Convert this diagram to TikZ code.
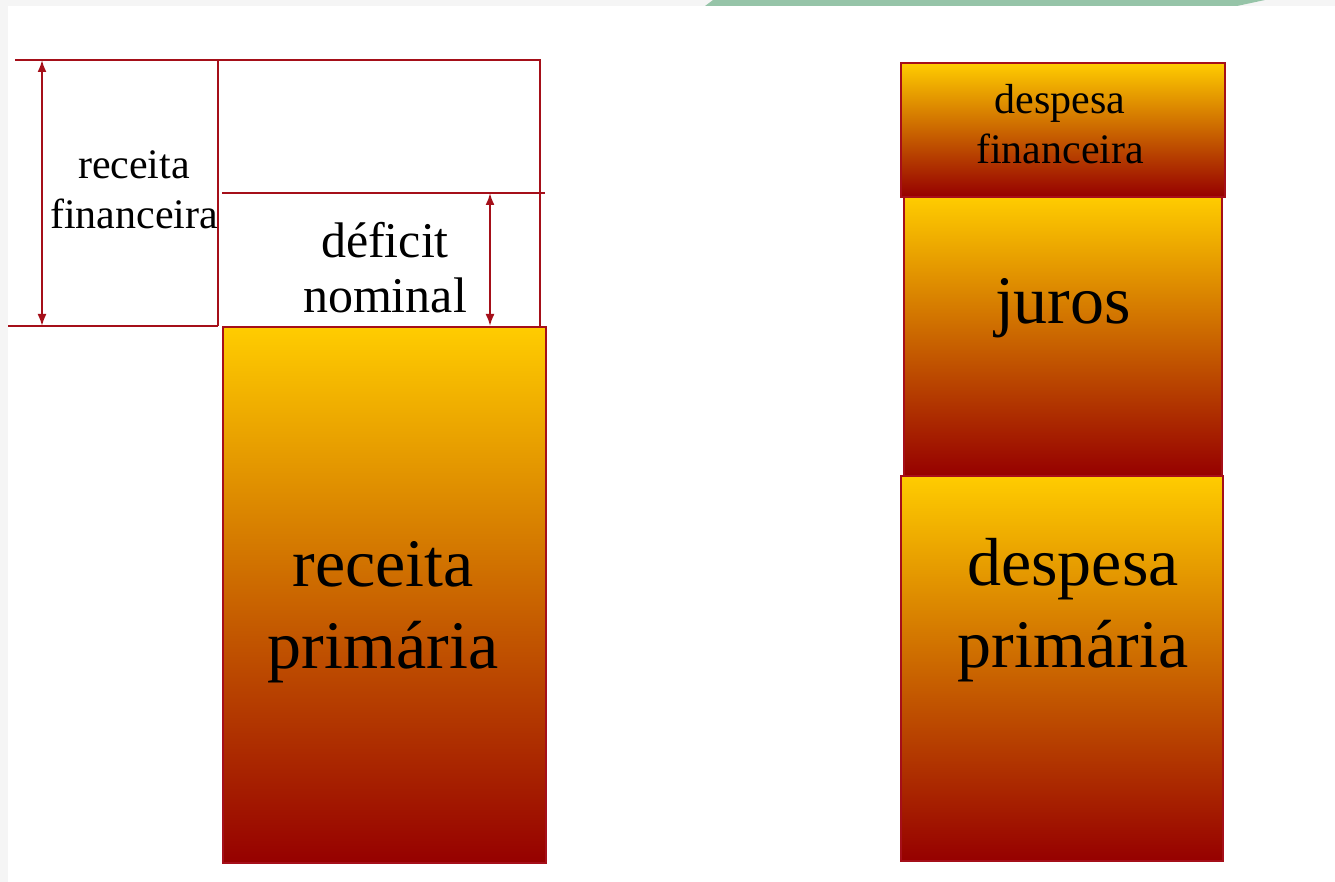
\documentclass[tikz,border=0pt]{standalone}
\usepackage{fontspec}
\setmainfont{Liberation Serif}
\usetikzlibrary{shapes.geometric, arrows, arrows.meta}
\definecolor{barred}{RGB}{150,0,0}
\definecolor{baryellow}{RGB}{255,204,0}
\definecolor{linered}{RGB}{165,15,25}
\definecolor{bandgreen}{RGB}{150,196,168}
\tikzstyle{bar} = [rectangle, draw=linered, line width=2pt, top color=baryellow, bottom color=barred, inner sep=0pt, anchor=north west]
\tikzstyle{frame} = [draw=linered, line width=2pt]
\tikzstyle{arrow} = [linered, line width=2pt, {Latex[length=12pt,width=9pt]}-{Latex[length=12pt,width=9pt]}]
\tikzstyle{small} = [align=center, font=\fontsize{42}{50}\selectfont]
\tikzstyle{mid} = [align=center, font=\fontsize{50}{55}\selectfont]
\tikzstyle{big} = [align=center, font=\fontsize{68}{82}\selectfont]

\begin{document}
\begin{tikzpicture}[x=1pt, y=-1pt]
    \useasboundingbox (0,0) rectangle (1335,882);
    \fill[white] (0,0) rectangle (1335,882);
    \fill[gray!8] (0,0) rectangle (1335,6);
    \fill[gray!8] (0,0) rectangle (8,882);
    \fill[bandgreen] (705,6) -- (713,0) -- (1265,0) -- (1237,6) -- cycle;

    % left: receitas
    \draw[frame] (15,60) -- (540,60) -- (540,326);
    \draw[frame] (218,60) -- (218,326);
    \draw[frame] (8,326) -- (218,326);
    \draw[frame] (222,193) -- (545,193);

    \coordinate (fintop) at (42,60);
    \coordinate (finbot) at (42,326);
    \coordinate (deftop) at (490,193);
    \coordinate (defbot) at (490,326);
    \draw[arrow] (fintop) -- (finbot);
    \draw[arrow] (deftop) -- (defbot);

    \node (recfin) [small] at (134,190) {receita\\financeira};
    \node (deficit) [mid] at (385,268) {déficit\\nominal};

    \node (recprim) [bar, minimum width=323pt, minimum height=536pt] at (222,326) {};
    \node (recprimtxt) [big] at (383,612) {receita\\primária};

    % right: despesas
    \node (despfin) [bar, minimum width=324pt, minimum height=134pt] at (900,62) {};
    \node (juros) [bar, minimum width=318pt, minimum height=279pt] at (903,196) {};
    \node (despprim) [bar, minimum width=322pt, minimum height=385pt] at (900,475) {};

    \node (despfintxt) [small] at (1060,124) {despesa\\financeira};
    \node (jurostxt) [big] at (1063,308) {juros};
    \node (despprimtxt) [big] at (1073,610) {despesa\\primária};

\end{tikzpicture}
\end{document}
